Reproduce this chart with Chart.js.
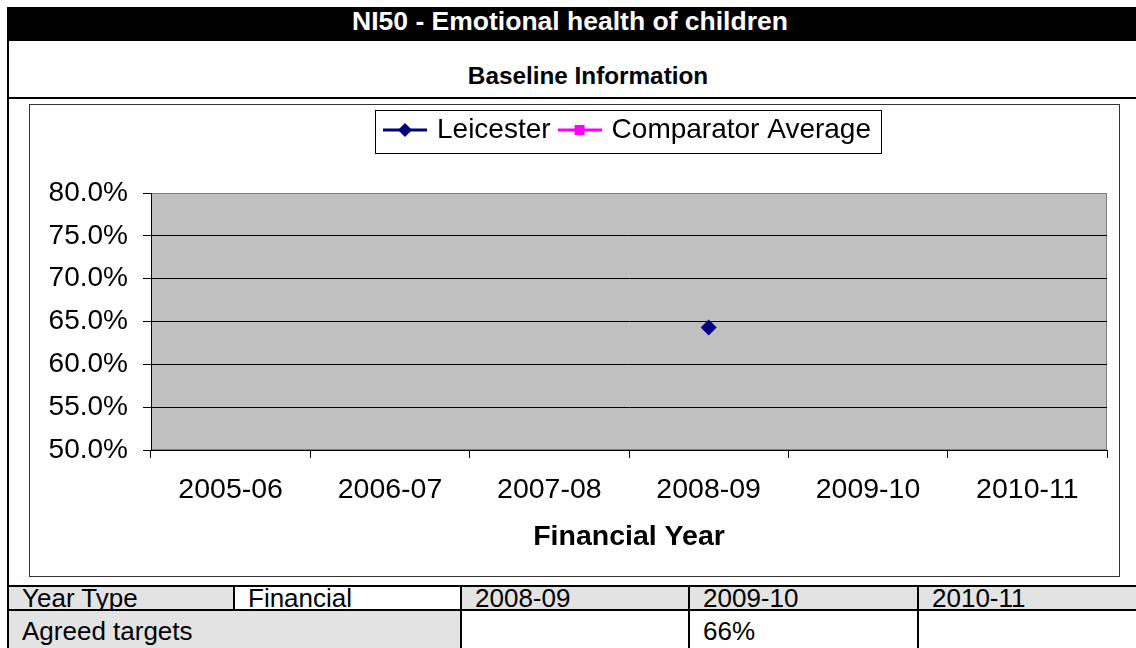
<!DOCTYPE html>
<html>
<head>
<meta charset="utf-8">
<script src="https://cdn.jsdelivr.net/npm/chart.js@4.4.0/dist/chart.umd.min.js"></script>
<style>
  body { margin: 0; width: 1136px; height: 648px; overflow: hidden; background: #fff; position: relative;
         font-family: 'Liberation Sans', Arial, sans-serif; color: #000; }
  .abs { position: absolute; }
  #frameLeft { left: 7px; top: 7px; width: 2px; height: 641px; background: #000; }
  #titleBar { left: 7px; top: 7px; width: 1129px; height: 34px; background: #000; }
  #titleText { left: 0; top: 7px; width: 1140px; text-align: center; color: #fff; font-weight: bold; font-size: 26.5px; line-height: 28px; }
  #subText { left: 0; top: 62px; width: 1176px; text-align: center; font-weight: bold; font-size: 24.3px; line-height: 28px; }
  #subLine { left: 7px; top: 97px; width: 1129px; height: 2px; background: #000; }
  #chartBox { left: 29px; top: 104px; width: 1089px; height: 471px; border: 1px solid #333; }
  #tableBg { left: 7px; top: 585px; width: 1129px; height: 63px; background: #000; }
  .cell { position: absolute; box-sizing: border-box; padding-left: 13px; font-size: 26px; white-space: nowrap; }
  .gray { background: #e3e3e3; }
  .white { background: #fff; }
</style>
</head>
<body>
<div class="abs" id="titleBar"></div>
<div class="abs" id="frameLeft"></div>
<div class="abs" id="titleText">NI50 - Emotional health of children</div>
<div class="abs" id="subText">Baseline Information</div>
<div class="abs" id="subLine"></div>
<div class="abs" id="chartBox"><canvas id="chart" width="1089" height="471"></canvas></div>
<div class="abs" id="tableBg"></div>
<div id="table"></div>

<script>
const categories = ['2005-06', '2006-07', '2007-08', '2008-09', '2009-10', '2010-11'];
const seriesNames = ['Leicester', 'Comparator Average'];
const leicester = [null, null, null, 64.3, null, null];
const comparatorAverage = [null, null, null, null, null, null];
const yTickValues = [50, 55, 60, 65, 70, 75, 80];
const yTickLabels = ['50.0%', '55.0%', '60.0%', '65.0%', '70.0%', '75.0%', '80.0%'];

// table under the chart
const tableRow1 = ['Year Type', 'Financial', '2008-09', '2009-10', '2010-11'];
const tableRow2 = ['Agreed targets', '', '66%', ''];

const table = document.getElementById('table');
function addCell(text, left, top, width, height, cls, lineHeight, padTop) {
    const d = document.createElement('div');
    d.className = 'cell ' + cls;
    d.style.left = left + 'px';
    d.style.top = top + 'px';
    d.style.width = width + 'px';
    d.style.height = height + 'px';
    d.style.lineHeight = lineHeight + 'px';
    d.style.paddingTop = padTop + 'px';
    d.textContent = text;
    table.appendChild(d);
}
addCell(tableRow1[0], 9, 587, 224, 22, 'gray', 22, 0);
addCell(tableRow1[1], 235, 587, 225, 22, 'white', 22, 0);
addCell(tableRow1[2], 462, 587, 226, 22, 'gray', 22, 0);
addCell(tableRow1[3], 690, 587, 227, 22, 'gray', 22, 0);
addCell(tableRow1[4], 919, 587, 217, 22, 'gray', 22, 0);
addCell(tableRow2[0], 9, 611, 451, 37, 'gray', 30, 5);
addCell(tableRow2[1], 462, 611, 226, 37, 'white', 30, 5);
addCell(tableRow2[2], 690, 611, 227, 37, 'white', 30, 5);
addCell(tableRow2[3], 919, 611, 217, 37, 'white', 30, 5);

// legend symbols: line with marker
function legendIcon(color, marker) {
    const c = document.createElement('canvas');
    c.width = 44; c.height = 16;
    const g = c.getContext('2d');
    g.strokeStyle = color;
    g.lineWidth = 3;
    g.beginPath(); g.moveTo(0, 8); g.lineTo(44, 8); g.stroke();
    g.fillStyle = color;
    g.beginPath();
    if (marker === 'diamond') {
        g.moveTo(22, 1); g.lineTo(29, 8); g.lineTo(22, 15); g.lineTo(15, 8);
    } else {
        g.rect(17, 3, 10, 10);
    }
    g.closePath(); g.fill();
    return c;
}
const legendIcons = [legendIcon('#000080', 'diamond'), legendIcon('#ff00ff', 'square')];

const plotBackground = {
    id: 'plotBackground',
    beforeDraw(chart) {
        const { ctx, chartArea: a } = chart;
        ctx.save();
        ctx.fillStyle = '#c0c0c0';
        ctx.fillRect(a.left, a.top, a.right - a.left, a.bottom - a.top);
        ctx.strokeStyle = '#808080';
        ctx.lineWidth = 1;
        ctx.strokeRect(a.left + 0.5, a.top + 0.5, a.right - a.left - 1, a.bottom - a.top - 1);
        ctx.restore();
    }
};

const legendFrame = {
    id: 'legendFrame',
    afterInit(chart) {
        const fit = chart.legend.fit;
        chart.legend.fit = function () { fit.call(this); this.height = 88; };
    },
    afterDraw(chart) {
        const boxes = chart.legend.legendHitBoxes;
        if (!boxes || !boxes.length) return;
        const ctx = chart.ctx;
        const left = Math.round(Math.min(...boxes.map(b => b.left)) - 12);
        const right = Math.round(Math.max(...boxes.map(b => b.left + b.width)) + 10);
        const top = Math.round(Math.min(...boxes.map(b => b.top)) - 6);
        const bottom = Math.round(Math.max(...boxes.map(b => b.top + b.height)) + 9);
        ctx.save();
        ctx.strokeStyle = '#000';
        ctx.lineWidth = 1;
        ctx.strokeRect(left + 0.5, top + 0.5, right - left, bottom - top);
        ctx.restore();
    }
};

Chart.defaults.font.family = "'Liberation Sans', Arial, sans-serif";
Chart.defaults.color = '#000';

new Chart(document.getElementById('chart').getContext('2d'), {
    type: 'line',
    data: {
        labels: categories,
        datasets: [{
            label: seriesNames[0],
            data: leicester,
            borderColor: '#000080',
            backgroundColor: '#000080',
            borderWidth: 2,
            pointStyle: 'rectRot',
            pointRadius: 8,
            pointBorderWidth: 0
        }, {
            label: seriesNames[1],
            data: comparatorAverage,
            borderColor: '#ff00ff',
            backgroundColor: '#ff00ff',
            borderWidth: 2,
            pointStyle: 'rect',
            pointRadius: 6
        }]
    },
    options: {
        responsive: false,
        animation: false,
        layout: { padding: { left: 0, right: 12, top: 0, bottom: 0 } },
        plugins: {
            tooltip: { enabled: false },
            legend: {
                position: 'top',
                fullSize: false,
                labels: {
                    usePointStyle: true,
                    pointStyleWidth: 36,
                    padding: 11,
                    font: { size: 28 },
                    color: '#000',
                    generateLabels(chart) {
                        const items = Chart.defaults.plugins.legend.labels.generateLabels(chart);
                        items.forEach((it, i) => { it.pointStyle = legendIcons[i]; });
                        return items;
                    }
                }
            }
        },
        scales: {
            x: {
                offset: true,
                afterFit(scale) { scale.height = 126; },
                grid: { offset: true, drawOnChartArea: false, drawTicks: true, tickLength: 8, tickColor: '#000' },
                border: { color: '#000', width: 1 },
                ticks: { font: { size: 28.5 }, padding: 15, maxRotation: 0, autoSkip: false },
                title: { display: true, text: 'Financial Year', font: { size: 28.5, weight: 'bold' }, padding: { top: 4, bottom: 22 } }
            },
            y: {
                min: 50,
                max: 80,
                afterFit(scale) { scale.width = 121; },
                afterBuildTicks(scale) { scale.ticks = yTickValues.map(v => ({ value: v })); },
                grid: {
                    color: ctx => (ctx.tick && ctx.tick.value === 80) ? 'rgba(0,0,0,0)' : '#000',
                    tickColor: '#000',
                    tickLength: 8,
                    lineWidth: 1
                },
                border: { color: '#000', width: 1 },
                ticks: {
                    font: { size: 28 },
                    padding: 15,
                    callback: v => yTickLabels[yTickValues.indexOf(v)]
                }
            }
        }
    },
    plugins: [plotBackground, legendFrame]
});
</script>
</body>
</html>
